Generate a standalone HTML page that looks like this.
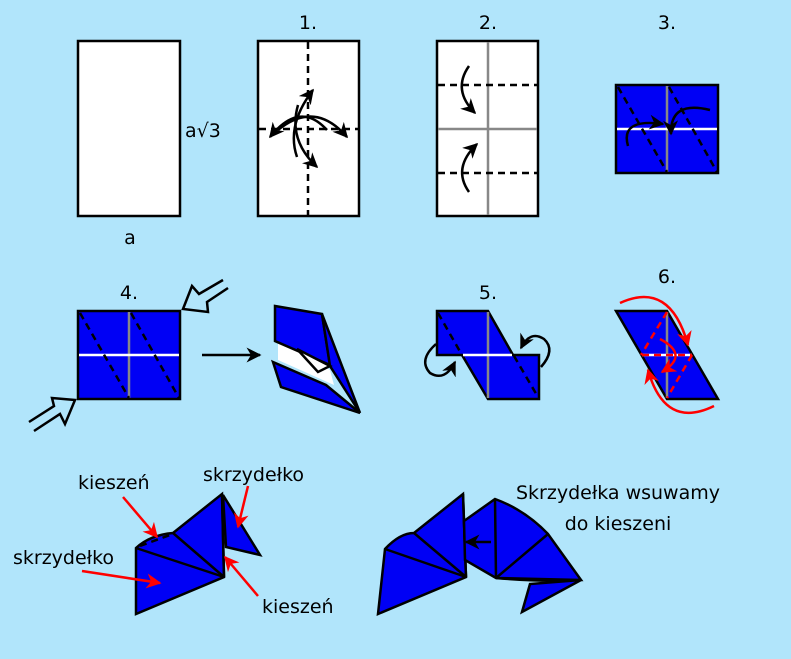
<!DOCTYPE html>
<html><head><meta charset="utf-8"><style>
html,body{margin:0;padding:0;background:#b1e5fb;}
svg{display:block}
text{font-family:"DejaVu Sans","Liberation Sans",sans-serif;font-size:19px;fill:#000}
</style></head><body>
<svg width="791" height="659" viewBox="0 0 791 659" xmlns="http://www.w3.org/2000/svg">
<defs>
<marker id="ab" viewBox="0 0 10 10" refX="9" refY="5" markerWidth="6" markerHeight="6" orient="auto"><path d="M0,0 L10,5 L0,10 L3,5 z" fill="#000"/></marker>
<marker id="ar" viewBox="0 0 10 10" refX="9" refY="5" markerWidth="6" markerHeight="6" orient="auto"><path d="M0,0 L10,5 L0,10 L3,5 z" fill="#f00"/></marker>
</defs>
<rect width="791" height="659" fill="#b1e5fb"/>
<g stroke="#000" stroke-width="2.5" fill="none">
<rect x="78" y="41" width="102" height="175" fill="#fff"/>
<rect x="258" y="41" width="101" height="175" fill="#fff"/>
<line x1="308" y1="42" x2="308" y2="215" stroke-dasharray="7,5"/>
<line x1="259" y1="129" x2="358" y2="129" stroke-dasharray="7,5"/>
<path d="M297,157 Q286,125 313,90" marker-end="url(#ab)"/>
<path d="M298,105 Q288,140 317,167" marker-end="url(#ab)"/>
<path d="M327,130 Q300,100 270,137" marker-end="url(#ab)"/>
<path d="M278,130 Q315,100 347,137" marker-end="url(#ab)"/>
<rect x="437" y="41" width="101" height="175" fill="#fff"/>
<line x1="488" y1="42" x2="488" y2="215" stroke="#888"/>
<line x1="438" y1="129" x2="537" y2="129" stroke="#888"/>
<line x1="438" y1="85" x2="537" y2="85" stroke-dasharray="7,5"/>
<line x1="438" y1="173" x2="537" y2="173" stroke-dasharray="7,5"/>
<path d="M469,66 Q452,90 475,113" marker-end="url(#ab)"/>
<path d="M469,192 Q452,168 477,144" marker-end="url(#ab)"/>
<rect x="616" y="85" width="102" height="88" fill="#0000f5"/>
<line x1="667" y1="86" x2="667" y2="172" stroke="#888"/>
<line x1="617" y1="129" x2="717" y2="129" stroke="#fff"/>
<line x1="618" y1="87" x2="667" y2="172" stroke-dasharray="7,5"/>
<line x1="669" y1="87" x2="717" y2="172" stroke-dasharray="7,5"/>
<path d="M628,146 Q620,118 663,124" marker-end="url(#ab)"/>
<path d="M710,110 Q670,100 671,134" marker-end="url(#ab)"/>
<rect x="78" y="311" width="102" height="88" fill="#0000f5"/>
<line x1="129" y1="312" x2="129" y2="398" stroke="#888"/>
<line x1="79" y1="355" x2="179" y2="355" stroke="#fff"/>
<line x1="80" y1="313" x2="129" y2="398" stroke-dasharray="7,5"/>
<line x1="131" y1="313" x2="179" y2="398" stroke-dasharray="7,5"/>
<polyline points="223,280 199,294 192,286 183,309 208,312 207,302 228,288"/>
<polyline points="29,422 54,406 52,398 75,400 65,424 60,414 34,431"/>
<line x1="202" y1="355" x2="260" y2="355" marker-end="url(#ab)"/>
<polygon points="278,343 298,350 330,370 334,385 278,360" fill="#fff" stroke="none"/>
<polygon points="275,306 322,314 330,365 275,341" fill="#0000f5"/>
<polygon points="322,314 360,413 330,366" fill="#0000f5"/>
<polygon points="297,349 330,366 318,372" fill="#fff"/>
<polygon points="273,362 326,385 360,413 281,387" fill="#0000f5"/>
<polygon points="437,311 488,311 513,355 539,355 539,399 488,399 462,355 437,355" fill="#0000f5"/>
<line x1="488" y1="312" x2="488" y2="398" stroke="#888"/>
<line x1="463" y1="355" x2="512" y2="355" stroke="#fff"/>
<line x1="438" y1="313" x2="462" y2="355" stroke-dasharray="7,5"/>
<line x1="514" y1="356" x2="538" y2="397" stroke-dasharray="7,5"/>
<path d="M436,344 Q418,360 430,373 Q445,382 455,362" marker-end="url(#ab)"/>
<path d="M541,367 Q556,350 544,339 Q530,330 521,348" marker-end="url(#ab)"/>
<polygon points="616,311 667,311 718,399 667,399" fill="#0000f5"/>
<line x1="667" y1="312" x2="667" y2="398" stroke="#888"/>
<line x1="642" y1="355" x2="692" y2="355" stroke="#fff"/>
<g stroke="#f00">
<line x1="667" y1="312" x2="641" y2="355" stroke-dasharray="7,5"/>
<line x1="692" y1="355" x2="667" y2="398" stroke-dasharray="7,5"/>
<line x1="642" y1="355" x2="692" y2="355" stroke-dasharray="7,5"/>
<path d="M620,303 Q670,280 688,345" marker-end="url(#ar)"/>
<path d="M714,406 Q665,430 648,370" marker-end="url(#ar)"/>
<path d="M660,339 Q690,355 662,372" marker-end="url(#ar)"/>
</g>
<polygon points="223,495 260,555 226,547" fill="#0000f5"/>
<path d="M136,548 L136,614 L224,577 L222,494 L173,533 Q150,535 136,548 Z" fill="#0000f5"/>
<line x1="136" y1="548" x2="224" y2="577"/>
<line x1="173" y1="533" x2="224" y2="577"/>
<line x1="222" y1="494" x2="224" y2="577"/>
<line x1="140" y1="546" x2="170" y2="535" stroke-dasharray="7,5"/>
<g stroke="#f00">
<line x1="123" y1="497" x2="157" y2="537" marker-end="url(#ar)"/>
<line x1="248" y1="486" x2="238" y2="527" marker-end="url(#ar)"/>
<line x1="82" y1="571" x2="160" y2="583" marker-end="url(#ar)"/>
<line x1="258" y1="596" x2="225" y2="557" marker-end="url(#ar)"/>
</g>
<path d="M378,614 L385,549 Q400,533 414,533 L463,494 L466,577 Z" fill="#0000f5"/>
<line x1="385" y1="549" x2="466" y2="577"/>
<line x1="414" y1="533" x2="466" y2="577"/>
<line x1="463" y1="494" x2="466" y2="577"/>
<polygon points="530,584 522,612 581,580" fill="#0000f5"/>
<path d="M464,521 L495,499 Q525,510 548,534 L581,580 L496,578 L465,560 Z" fill="#0000f5"/>
<line x1="495" y1="499" x2="496" y2="578"/>
<line x1="548" y1="534" x2="496" y2="578"/>
<path d="M496,578 Q540,582 581,580"/>
<line x1="491" y1="542" x2="466" y2="542" marker-end="url(#ab)"/>
</g>
<text x="308" y="29" text-anchor="middle">1.</text>
<text x="488" y="29" text-anchor="middle">2.</text>
<text x="667" y="29" text-anchor="middle">3.</text>
<text x="129" y="299" text-anchor="middle">4.</text>
<text x="488" y="299" text-anchor="middle">5.</text>
<text x="667" y="283" text-anchor="middle">6.</text>
<text x="130" y="244" text-anchor="middle">a</text>
<text x="185" y="137">a√3</text>
<text x="78" y="489">kieszeń</text>
<text x="203" y="481">skrzydełko</text>
<text x="13" y="564">skrzydełko</text>
<text x="262" y="613">kieszeń</text>
<text x="618" y="499" text-anchor="middle">Skrzydełka wsuwamy</text>
<text x="618" y="530" text-anchor="middle">do kieszeni</text>
</svg>
</body></html>
